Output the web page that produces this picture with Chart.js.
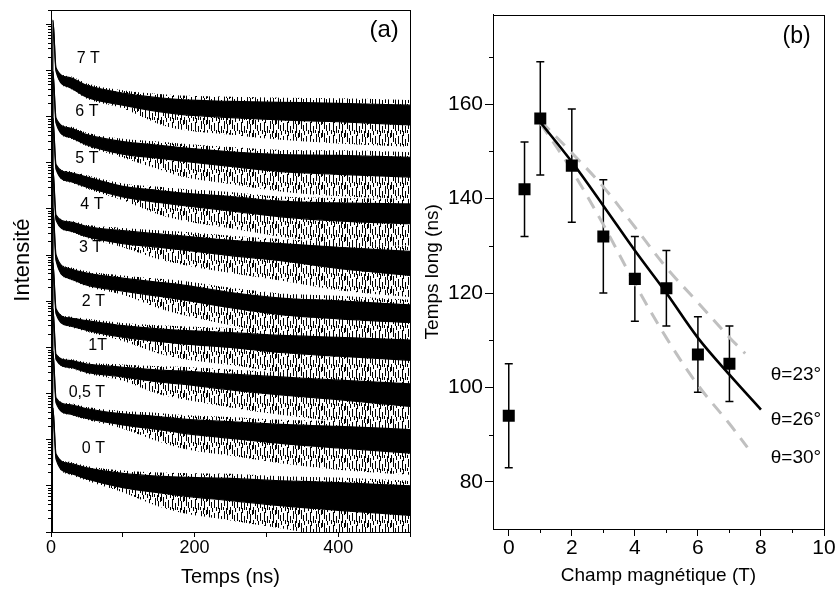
<!DOCTYPE html>
<html>
<head>
<meta charset="utf-8">
<script src="https://cdn.jsdelivr.net/npm/chart.js@4.4.1/dist/chart.umd.min.js"></script>
<style>
  html, body { margin: 0; padding: 0; background: #fff; }
  #wrap { position: relative; width: 836px; height: 593px; }
  canvas { position: absolute; top: 0; }
  #chartA { left: 0; }
  #chartB { left: 420px; }
</style>
</head>
<body>
<div id="wrap">
  <canvas id="chartA" width="420" height="593"></canvas>
  <canvas id="chartB" width="416" height="593"></canvas>
</div>
<script>
// ---- (a) déclins de luminescence : temps (ns), intensité en décades (log10) ----
const temps = [0, 1.2, 2.6, 7, 25, 50, 100, 150, 180, 250, 320, 400, 500];

// pics du bruit / bord haut / bord bas de la trace, et creux du bruit
const pic7 = [-0.5, -0.5, 11.09, 10.06, 9.88, 9.72, 9.57, 9.49, 9.46, 9.43, 9.41, 9.40, 9.36];
const hi7 = [-0.5, -0.5, 11.09, 10.06, 9.85, 9.68, 9.51, 9.41, 9.37, 9.33, 9.31, 9.29, 9.25];
const lo7 = [-0.5, -0.5, 11.09, 9.98, 9.64, 9.42, 9.25, 9.11, 9.05, 8.98, 8.93, 8.89, 8.82];
const dip7 = [-0.5, -0.5, 11.09, 9.98, 9.62, 9.39, 9.18, 8.84, 8.72, 8.61, 8.50, 8.42, 8.35];

const pic6 = [-0.5, -0.5, 9.98, 8.97, 8.79, 8.65, 8.52, 8.46, 8.42, 8.34, 8.28, 8.27, 8.23];
const hi6 = [-0.5, -0.5, 9.98, 8.97, 8.76, 8.61, 8.46, 8.38, 8.33, 8.24, 8.18, 8.16, 8.12];
const lo6 = [-0.5, -0.5, 9.98, 8.86, 8.56, 8.39, 8.19, 8.10, 8.04, 7.92, 7.81, 7.75, 7.69];
const dip6 = [-0.5, -0.5, 9.98, 8.86, 8.54, 8.36, 8.11, 7.86, 7.71, 7.54, 7.38, 7.28, 7.22];

const pic5 = [-0.5, -0.5, 8.97, 7.96, 7.82, 7.73, 7.55, 7.48, 7.44, 7.37, 7.27, 7.24, 7.22];
const hi5 = [-0.5, -0.5, 8.97, 7.96, 7.79, 7.69, 7.49, 7.40, 7.35, 7.27, 7.17, 7.13, 7.11];
const lo5 = [-0.5, -0.5, 8.97, 7.86, 7.60, 7.47, 7.26, 7.14, 7.08, 6.96, 6.83, 6.74, 6.68];
const dip5 = [-0.5, -0.5, 8.97, 7.86, 7.58, 7.44, 7.19, 6.88, 6.76, 6.58, 6.40, 6.27, 6.21];

const pic4 = [-0.5, -0.5, 7.88, 6.87, 6.75, 6.66, 6.59, 6.54, 6.51, 6.42, 6.35, 6.28, 6.19];
const hi4 = [-0.5, -0.5, 7.88, 6.87, 6.72, 6.62, 6.53, 6.46, 6.42, 6.32, 6.25, 6.17, 6.08];
const lo4 = [-0.5, -0.5, 7.88, 6.76, 6.53, 6.40, 6.25, 6.17, 6.12, 5.99, 5.88, 5.71, 5.56];
const dip4 = [-0.5, -0.5, 7.88, 6.76, 6.51, 6.37, 6.17, 5.91, 5.80, 5.61, 5.45, 5.24, 5.09];

const pic3 = [-0.5, -0.5, 7.02, 6.01, 5.74, 5.65, 5.56, 5.49, 5.45, 5.29, 5.17, 5.12, 5.03];
const hi3 = [-0.5, -0.5, 7.02, 6.01, 5.71, 5.61, 5.50, 5.41, 5.36, 5.19, 5.07, 5.01, 4.92];
const lo3 = [-0.5, -0.5, 7.02, 5.88, 5.50, 5.35, 5.22, 5.11, 5.04, 4.86, 4.71, 4.62, 4.54];
const dip3 = [-0.5, -0.5, 7.02, 5.88, 5.48, 5.32, 5.14, 4.85, 4.72, 4.48, 4.28, 4.15, 4.07];

const pic2 = [-0.5, -0.5, 5.84, 4.84, 4.67, 4.62, 4.53, 4.48, 4.46, 4.42, 4.36, 4.33, 4.27];
const hi2 = [-0.5, -0.5, 5.84, 4.84, 4.64, 4.58, 4.47, 4.40, 4.37, 4.32, 4.26, 4.22, 4.16];
const lo2 = [-0.5, -0.5, 5.84, 4.73, 4.47, 4.37, 4.22, 4.13, 4.08, 4.00, 3.89, 3.81, 3.72];
const dip2 = [-0.5, -0.5, 5.84, 4.73, 4.45, 4.34, 4.14, 3.87, 3.76, 3.62, 3.46, 3.34, 3.25];

const pic1 = [-0.5, -0.5, 4.84, 3.85, 3.75, 3.68, 3.63, 3.59, 3.58, 3.52, 3.46, 3.40, 3.32];
const hi1 = [-0.5, -0.5, 4.84, 3.85, 3.72, 3.64, 3.57, 3.51, 3.49, 3.42, 3.36, 3.29, 3.21];
const lo1 = [-0.5, -0.5, 4.84, 3.74, 3.57, 3.46, 3.36, 3.25, 3.21, 3.08, 2.97, 2.87, 2.72];
const dip1 = [-0.5, -0.5, 4.84, 3.74, 3.55, 3.43, 3.28, 2.99, 2.89, 2.70, 2.54, 2.40, 2.25];

const pic05 = [-0.5, -0.5, 3.92, 2.91, 2.79, 2.71, 2.62, 2.58, 2.54, 2.49, 2.43, 2.40, 2.33];
const hi05 = [-0.5, -0.5, 3.92, 2.91, 2.76, 2.67, 2.56, 2.50, 2.45, 2.39, 2.33, 2.29, 2.22];
const lo05 = [-0.5, -0.5, 3.92, 2.80, 2.56, 2.46, 2.32, 2.22, 2.15, 2.03, 1.92, 1.82, 1.71];
const dip05 = [-0.5, -0.5, 3.92, 2.80, 2.54, 2.43, 2.24, 1.96, 1.82, 1.65, 1.49, 1.35, 1.24];

const pic0 = [-0.5, -0.5, 2.69, 1.69, 1.52, 1.43, 1.33, 1.29, 1.28, 1.26, 1.21, 1.18, 1.11];
const hi0 = [-0.5, -0.5, 2.69, 1.69, 1.49, 1.39, 1.27, 1.21, 1.19, 1.16, 1.11, 1.07, 1.00];
const lo0 = [-0.5, -0.5, 2.69, 1.58, 1.28, 1.15, 0.96, 0.85, 0.79, 0.68, 0.57, 0.47, 0.36];
const dip0 = [-0.5, -0.5, 2.69, 1.58, 1.25, 1.11, 0.86, 0.55, 0.42, 0.25, 0.08, -0.1, -0.1];

// étiquettes des champs (position en temps, décade)
const champNoms = ['7 T', '6 T', '5 T', '4 T', '3 T', '2 T', '1T', '0,5 T', '0 T'];
const nomT = [52, 50, 50, 57, 55, 59, 65, 50, 59];
const nomD = [10.25, 9.10, 8.10, 7.10, 6.16, 5.0, 4.03, 3.02, 1.81];

const tempsTicks = [0, 100, 200, 300, 400, 500];
const tempsLabels = [0, 200, 400];
const decades = [0, 1, 2, 3, 4, 5, 6, 7, 8, 9, 10, 11];
const sousDecades = [2, 3, 4, 5, 6, 7, 8, 9];
const decadeMax = 11.307;

// ---- (b) temps long en fonction du champ ----
const champ = [0, 0.5, 1, 2, 3, 4, 5, 6, 7];
const tempsLong = [94, 142, 157, 147, 132, 123, 121, 107, 105];
const errBas = [83, 132, 145, 135, 120, 114, 113, 99, 97];
const errHaut = [105, 152, 169, 159, 144, 132, 129, 115, 113];

const x26 = [1, 2, 3, 4, 5, 6, 7, 8];
const fit26 = [156.2, 147.8, 138.5, 129, 120, 110.5, 102.7, 95.3];
const x23 = [1, 2, 3, 4, 5, 6, 7, 7.5];
const fit23 = [156.5, 149.7, 142.5, 134, 125.4, 118, 110.6, 107.2];
const x30 = [1, 2, 3, 4, 5, 6, 7, 7.57];
const fit30 = [156, 146, 134.5, 122, 110.5, 100.5, 92.3, 87.3];

const champTicks = [0, 2, 4, 6, 8, 10];
const champMinor = [1, 3, 5, 7, 9];
const tempsLongTicks = [80, 100, 120, 140, 160];
const tempsLongMinor = [90, 110, 130, 150, 170];

Chart.defaults.font.family = '"Liberation Sans", Arial, sans-serif';
Chart.defaults.color = '#000';

// texture du bruit : traits verticaux courts (x, début, longueur) dans un motif 23 x 13
const bruitTraits = [[0, 0, 7], [2, 3, 9], [4, 8, 6], [5, 1, 4], [7, 6, 8], [9, 0, 4], [11, 5, 10],
  [12, 1, 5], [14, 9, 7], [16, 0, 3], [17, 4, 8], [19, 1, 6], [20, 7, 9], [22, 3, 5]];
function motifBruit(ctxRef) {
  const c = document.createElement('canvas');
  c.width = 23; c.height = 13;
  const g = c.getContext('2d');
  g.fillStyle = '#000';
  bruitTraits.forEach(([x, y0, len]) => {
    g.fillRect(x, y0, 1, len);
    if (y0 + len > 13) g.fillRect(x, 0, 1, y0 + len - 13);
  });
  return ctxRef.createPattern(c, 'repeat');
}

// cadre + petites graduations
const frameTicks = {
  id: 'frameTicks',
  afterDraw(chart, args, opts) {
    const { ctx, chartArea: a } = chart;
    const l = Math.round(a.left), t = Math.round(a.top), r = Math.round(a.right), b = Math.round(a.bottom);
    ctx.save();
    ctx.strokeStyle = '#000';
    ctx.lineWidth = 1;
    ctx.strokeRect(l + 0.5, t + 0.5, r - l, b - t);
    ctx.beginPath();
    (opts.x || []).forEach(v => {
      const px = Math.round(chart.scales.x.getPixelForValue(v)) + 0.5;
      ctx.moveTo(px, b); ctx.lineTo(px, b + opts.xLen);
    });
    (opts.y || []).forEach(v => {
      const py = Math.round(chart.scales.y.getPixelForValue(v)) + 0.5;
      ctx.moveTo(l, py); ctx.lineTo(l - opts.yLen, py);
    });
    ctx.stroke();
    ctx.restore();
  }
};

const textMarks = {
  id: 'textMarks',
  afterDatasetsDraw(chart, args, opts) {
    const { ctx } = chart;
    ctx.save();
    ctx.fillStyle = '#000';
    ctx.textBaseline = 'middle';
    (opts.items || []).forEach(it => {
      ctx.font = it.size + 'px "Liberation Sans", Arial, sans-serif';
      ctx.textAlign = it.align || 'center';
      ctx.fillText(it.text, chart.scales.x.getPixelForValue(it.x), chart.scales.y.getPixelForValue(it.y));
    });
    ctx.restore();
  }
};

const errorBars = {
  id: 'errorBars',
  beforeDatasetsDraw(chart) {
    const { ctx, scales: { x, y } } = chart;
    ctx.save();
    ctx.strokeStyle = '#000';
    ctx.lineWidth = 1.5;
    champ.forEach((c, i) => {
      const px = x.getPixelForValue(c);
      const p1 = y.getPixelForValue(errBas[i]), p2 = y.getPixelForValue(errHaut[i]);
      ctx.beginPath();
      ctx.moveTo(px, p1); ctx.lineTo(px, p2);
      ctx.moveTo(px - 4, p1); ctx.lineTo(px + 4, p1);
      ctx.moveTo(px - 4, p2); ctx.lineTo(px + 4, p2);
      ctx.stroke();
    });
    ctx.restore();
  }
};

// ---- graphique (a) ----
const canvasA = document.getElementById('chartA');
const bruit = motifBruit(canvasA.getContext('2d'));

const traces = [
  { pic: pic7, hi: hi7, lo: lo7, dip: dip7 }, { pic: pic6, hi: hi6, lo: lo6, dip: dip6 },
  { pic: pic5, hi: hi5, lo: lo5, dip: dip5 }, { pic: pic4, hi: hi4, lo: lo4, dip: dip4 },
  { pic: pic3, hi: hi3, lo: lo3, dip: dip3 }, { pic: pic2, hi: hi2, lo: lo2, dip: dip2 },
  { pic: pic1, hi: hi1, lo: lo1, dip: dip1 }, { pic: pic05, hi: hi05, lo: lo05, dip: dip05 },
  { pic: pic0, hi: hi0, lo: lo0, dip: dip0 }
];
const toPts = arr => temps.map((t, i) => ({ x: t, y: Math.pow(10, arr[i]) }));
const ligne = { pointRadius: 0, cubicInterpolationMode: 'monotone' };

const datasetsA = [];
traces.forEach(tr => {
  datasetsA.push({ ...ligne, data: toPts(tr.lo), borderColor: '#000', borderWidth: 1.2, fill: false });
  datasetsA.push({ ...ligne, data: toPts(tr.hi), borderColor: '#000', borderWidth: 1.2, fill: '-1', backgroundColor: '#000' });
  datasetsA.push({ ...ligne, data: toPts(tr.dip), borderColor: 'rgba(0,0,0,0)', borderWidth: 1, fill: '-2', backgroundColor: bruit });
  datasetsA.push({ ...ligne, data: toPts(tr.pic), borderColor: 'rgba(0,0,0,0)', borderWidth: 1, fill: '-2', backgroundColor: bruit });
});

const minorLogA = [];
decades.forEach(d => sousDecades.forEach(k => {
  const v = k * Math.pow(10, d);
  if (Math.log10(v) < decadeMax) minorLogA.push(v);
}));

const labelsA = champNoms.map((n, i) => ({ text: n, x: nomT[i], y: Math.pow(10, nomD[i]), size: 16 }));
labelsA.push({ text: '(a)', x: 464, y: Math.pow(10, 10.86), size: 24 });

new Chart(canvasA, {
  type: 'line',
  data: { datasets: datasetsA },
  options: {
    responsive: false,
    animation: false,
    events: [],
    layout: { padding: { left: 0, right: 10, top: 4, bottom: 0 } },
    plugins: {
      legend: { display: false },
      tooltip: { enabled: false },
      frameTicks: { y: minorLogA, yLen: 3 },
      textMarks: { items: labelsA }
    },
    scales: {
      x: {
        type: 'linear', min: 0, max: 500,
        afterBuildTicks: s => { s.ticks = tempsTicks.map(v => ({ value: v })); },
        ticks: { callback: v => tempsLabels.includes(v) ? String(v) : '', font: { size: 18 }, padding: 0, maxRotation: 0, autoSkip: false },
        grid: { drawOnChartArea: false, color: '#000', tickLength: 5 },
        border: { color: '#000' },
        title: { display: true, text: 'Temps (ns)', font: { size: 20 }, padding: { top: 0, bottom: 4 } },
        afterFit: s => { s.height = 61; }
      },
      y: {
        type: 'logarithmic', min: 1, max: Math.pow(10, decadeMax),
        afterBuildTicks: s => { s.ticks = decades.map(d => ({ value: Math.pow(10, d) })); },
        ticks: { callback: () => '' },
        grid: { drawOnChartArea: false, color: '#000', tickLength: 5 },
        border: { color: '#000' },
        title: { display: true, text: '\u2003Intensité', font: { size: 22 }, padding: { top: 10, bottom: 0 } },
        afterFit: s => { s.width = 51; }
      }
    }
  },
  plugins: [frameTicks, textMarks]
});

// ---- graphique (b) ----
const xy = (xs, ys) => xs.map((v, i) => ({ x: v, y: ys[i] }));

new Chart(document.getElementById('chartB'), {
  type: 'line',
  data: {
    datasets: [
      { data: xy(champ, tempsLong), showLine: false, pointStyle: 'rect', pointRadius: 8.5, backgroundColor: '#000', borderColor: '#000', borderWidth: 0 },
      { data: xy(x26, fit26), borderColor: '#000', borderWidth: 2.6, pointRadius: 0, tension: 0.35, fill: false },
      { data: xy(x23, fit23), borderColor: '#c0c0c0', borderWidth: 3, borderDash: [13, 9], pointRadius: 0, tension: 0.35, fill: false },
      { data: xy(x30, fit30), borderColor: '#c0c0c0', borderWidth: 3, borderDash: [13, 9], pointRadius: 0, tension: 0.35, fill: false }
    ]
  },
  options: {
    responsive: false,
    animation: false,
    events: [],
    layout: { padding: { left: 0, right: 12, top: 5, bottom: 0 } },
    plugins: {
      legend: { display: false },
      tooltip: { enabled: false },
      frameTicks: { x: champMinor, xLen: 4, y: tempsLongMinor, yLen: 4 },
      textMarks: {
        items: [
          { text: '(b)', x: 9.13, y: 174.3, size: 23 },
          { text: 'θ=23°', x: 8.31, y: 102.7, size: 19, align: 'left' },
          { text: 'θ=26°', x: 8.31, y: 93.2, size: 19, align: 'left' },
          { text: 'θ=30°', x: 8.31, y: 85.2, size: 19, align: 'left' }
        ]
      }
    },
    scales: {
      x: {
        type: 'linear', min: -0.5, max: 10,
        afterBuildTicks: s => { s.ticks = champTicks.map(v => ({ value: v })); },
        ticks: { font: { size: 21 }, padding: 0, maxRotation: 0, autoSkip: false },
        grid: { drawOnChartArea: false, color: '#000', tickLength: 7 },
        border: { color: '#000' },
        title: { display: true, text: 'Champ magnétique (T)', font: { size: 19 }, padding: { top: 0, bottom: 6 } },
        afterFit: s => { s.height = 64; }
      },
      y: {
        type: 'linear', min: 70, max: 179,
        afterBuildTicks: s => { s.ticks = tempsLongTicks.map(v => ({ value: v })); },
        ticks: { font: { size: 21 }, padding: 2 },
        grid: { drawOnChartArea: false, color: '#000', tickLength: 8 },
        border: { color: '#000' },
        title: { display: true, text: 'Temps long (ns)', font: { size: 19 }, padding: { top: 1, bottom: 0 } },
        afterFit: s => { s.width = 73; }
      }
    }
  },
  plugins: [frameTicks, textMarks, errorBars]
});
</script>
</body>
</html>
